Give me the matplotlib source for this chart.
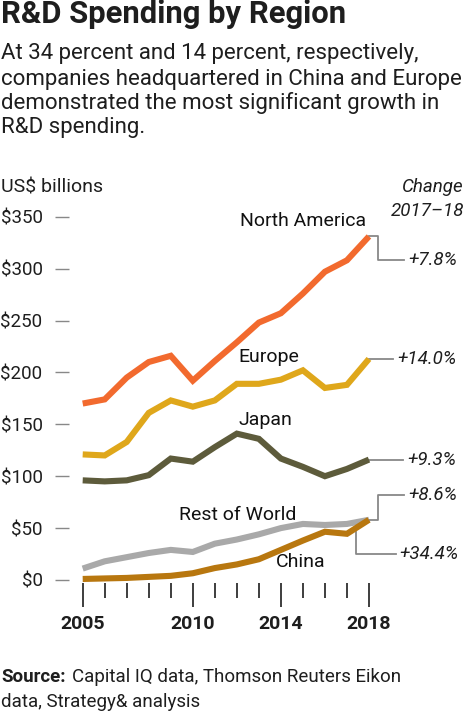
import matplotlib.pyplot as plt
import numpy as np

years = np.arange(2005, 2019)

north_america = [170, 174, 195, 210, 216, 192, 211, 229, 248, 257, 276, 297, 308, 331]
europe = [121, 120, 133, 161, 173, 167, 173, 189, 189, 193, 202, 185, 188, 213]
japan = [96, 95, 96, 101, 117, 114, 128, 141, 136, 117, 109, 100, 107, 116]
rest_of_world = [11, 18, 22, 26, 29, 27, 35, 39, 44, 50, 54, 53, 54, 58]
china = [1, 1.5, 2, 3, 4, 6.5, 11.5, 15, 20, 29, 38, 46.5, 44.5, 58]

changes = ['+7.8%', '+14.0%', '+9.3%', '+8.6%', '+34.4%']
yticks = [0, 50, 100, 150, 200, 250, 300, 350]
year_labels = [2005, 2010, 2014, 2018]

W, H = 468, 712
plt.rcParams['font.family'] = ['Roboto', 'DejaVu Sans']
fig = plt.figure(figsize=(W / 100, H / 100), dpi=100)
renderer = fig.canvas.get_renderer()
ink = '#1e1e1e'

def px(x, y):
    return x / W, 1 - y / H

def fit(t, width_px):
    # scale the font so the text spans about width_px pixels
    w = t.get_window_extent(renderer).width
    t.set_fontsize(t.get_fontsize() * width_px / w)
    return t

# axes: left edge at x=62 px, bottom at y=583 px
ax_l, ax_r, ax_t, ax_b = 62, 468, 190, 583
ax = fig.add_axes([ax_l / W, 1 - ax_b / H, (ax_r - ax_l) / W, (ax_b - ax_t) / H])
x0_px, x_per = 82.7, 22.02
y0_px, y_per = 580, 363.3 / 350
ax.set_xlim(2005 - (x0_px - ax_l) / x_per, 2005 + (ax_r - x0_px) / x_per)
ax.set_ylim(-(ax_b - y0_px) / y_per, (y0_px - ax_t) / y_per)
for s in ax.spines.values():
    s.set_visible(False)

series = [
    (north_america, '#F26A2E'),
    (europe, '#DFA71B'),
    (japan, '#5D5B3B'),
    (rest_of_world, '#A9A9A9'),
    (china, '#B8770F'),
]
# grey first so China sits on top where they meet
for i in [3, 4, 2, 1, 0]:
    vals, col = series[i]
    ax.plot(years, vals, color=col, lw=4.4, solid_joinstyle='miter',
            solid_capstyle='butt', clip_on=False, zorder=3)

ax.set_yticks(yticks)
ax.set_yticklabels(['$%d' % v for v in yticks], fontsize=13.5, color=ink)
ax.tick_params(axis='y', direction='inout', length=10, width=1, color='#888888', pad=9)

ax.set_xticks(years)
ax.set_xticklabels(['' for _ in years])
ax.tick_params(axis='x', direction='out', length=10.5, width=1.2, color=ink)
for t in ax.xaxis.get_major_ticks():
    if t.get_loc() in year_labels:
        t.tick1line.set_markersize(17.5)
for yr in year_labels:
    ax.text(yr, -(624 - y0_px) / y_per, str(yr), ha='center', va='center',
            fontsize=14, fontweight='bold', color=ink, clip_on=False)

# series labels
lab = dict(fontsize=14, color='#111111', ha='center', va='center')
ax.text(2015.0, 346, 'North America', **lab)
ax.text(2013.45, 215, 'Europe', **lab)
ax.text(2013.3, 154, 'Japan', **lab)
ax.text(2012.05, 63, 'Rest of World', **lab)
ax.text(2014.9, 17, 'China', **lab)

# change callouts
gray = '#888888'
pct = dict(fontsize=13.5, style='italic', color=ink, ha='left', va='center')
last = 2018
y_na = north_america[-1]
ax.plot([last, last + 0.42, last + 0.42, last + 1.6], [y_na, y_na, 308, 308],
        color=gray, lw=1.3, clip_on=False)
ax.text(last + 1.8, 308, changes[0], **pct)
ax.plot([last, last + 1.1], [europe[-1], europe[-1]], color=gray, lw=1.3, clip_on=False)
ax.text(last + 1.3, europe[-1], changes[1], **pct)
ax.plot([last, last + 1.55], [japan[-1], japan[-1]], color=gray, lw=1.3, clip_on=False)
ax.text(last + 1.75, japan[-1], changes[2], **pct)
ax.plot([last, last + 0.42, last + 0.42, last + 1.6],
        [rest_of_world[-1], rest_of_world[-1], 82, 82], color=gray, lw=1.3, clip_on=False)
ax.text(last + 1.8, 82, changes[3], **pct)
ax.plot([last - 0.6, last - 0.6, last + 1.25], [46, 25, 25], color=gray, lw=1.3,
        clip_on=False, zorder=2)
ax.text(last + 1.4, 25, changes[4], **pct)

# header texts
fit(fig.text(*px(1, 14), 'R&D Spending by Region', fontsize=20, fontweight='bold',
             color=ink, va='center', ha='left'), 345)
sub = ['At 34 percent and 14 percent, respectively,',
       'companies headquartered in China and Europe',
       'demonstrated the most significant growth in',
       'R&D spending.']
t2 = fit(fig.text(*px(1, 55), sub[1], fontsize=15, color=ink, va='center'), 463)
size = t2.get_fontsize()
t2.set_position(px(1, 79))
for line, y in zip([sub[0], sub[2], sub[3]], [54, 103, 128]):
    fig.text(*px(1, y), line, fontsize=size, color=ink, va='center')

fig.text(*px(1, 187), 'US$ billions', fontsize=14, color=ink, va='center')
fig.text(*px(464, 187), 'Change', fontsize=13.5, style='italic', color=ink,
         va='center', ha='right')
fig.text(*px(464, 211), '2017–18', fontsize=13.5, style='italic', color=ink,
         va='center', ha='right')

# source
fig.text(*px(1, 677), 'Source:', fontsize=13.5, fontweight='bold', color=ink,
         va='center')
fig.text(*px(72, 677), 'Capital IQ data, Thomson Reuters Eikon', fontsize=13.5,
         color=ink, va='center')
fig.text(*px(1, 702), 'data, Strategy& analysis', fontsize=13.5, color=ink,
         va='center')

fig.savefig('out.png', dpi=100)
